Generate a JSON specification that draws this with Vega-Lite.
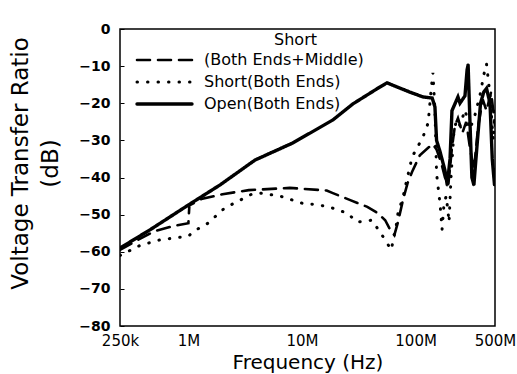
{
  "$schema": "https://vega.github.io/schema/vega-lite/v6.json",
  "width": 375,
  "height": 297,
  "autosize": {"type": "none"},
  "padding": {"left": 120, "top": 29, "right": 22, "bottom": 48},
  "background": "white",
  "config": {
    "view": {"stroke": "black", "strokeWidth": 1.5},
    "font": "DejaVu Sans"
  },
  "data": {
    "values": [
      {"s": "Open(Both Ends)", "f": 250000, "db": -59}, {"s": "Open(Both Ends)", "f": 459000, "db": -54.1},
      {"s": "Open(Both Ends)", "f": 1000000, "db": -47.4}, {"s": "Open(Both Ends)", "f": 1900000, "db": -42},
      {"s": "Open(Both Ends)", "f": 3860000, "db": -35.3}, {"s": "Open(Both Ends)", "f": 8300000, "db": -30.7},
      {"s": "Open(Both Ends)", "f": 18700000, "db": -24.5}, {"s": "Open(Both Ends)", "f": 28000000, "db": -20.2},
      {"s": "Open(Both Ends)", "f": 48600000, "db": -15.6}, {"s": "Open(Both Ends)", "f": 56000000, "db": -14.5},
      {"s": "Open(Both Ends)", "f": 66000000, "db": -15.4}, {"s": "Open(Both Ends)", "f": 89000000, "db": -17},
      {"s": "Open(Both Ends)", "f": 116000000, "db": -18.3}, {"s": "Open(Both Ends)", "f": 140000000, "db": -18.6},
      {"s": "Open(Both Ends)", "f": 148000000, "db": -21}, {"s": "Open(Both Ends)", "f": 153000000, "db": -30},
      {"s": "Open(Both Ends)", "f": 164000000, "db": -33}, {"s": "Open(Both Ends)", "f": 181000000, "db": -38},
      {"s": "Open(Both Ends)", "f": 190000000, "db": -42}, {"s": "Open(Both Ends)", "f": 201000000, "db": -35},
      {"s": "Open(Both Ends)", "f": 209000000, "db": -22}, {"s": "Open(Both Ends)", "f": 236000000, "db": -18.3},
      {"s": "Open(Both Ends)", "f": 246000000, "db": -20}, {"s": "Open(Both Ends)", "f": 272000000, "db": -18},
      {"s": "Open(Both Ends)", "f": 284000000, "db": -11}, {"s": "Open(Both Ends)", "f": 290000000, "db": -9.7},
      {"s": "Open(Both Ends)", "f": 301000000, "db": -25}, {"s": "Open(Both Ends)", "f": 313000000, "db": -40},
      {"s": "Open(Both Ends)", "f": 326000000, "db": -42}, {"s": "Open(Both Ends)", "f": 346000000, "db": -32},
      {"s": "Open(Both Ends)", "f": 373000000, "db": -20}, {"s": "Open(Both Ends)", "f": 398000000, "db": -17},
      {"s": "Open(Both Ends)", "f": 421000000, "db": -16}, {"s": "Open(Both Ends)", "f": 452000000, "db": -20},
      {"s": "Open(Both Ends)", "f": 473000000, "db": -35}, {"s": "Open(Both Ends)", "f": 495000000, "db": -42},
      {"s": "Open(Both Ends)", "f": 500000000, "db": -38},

      {"s": "Short(Both Ends+Middle)", "f": 250000, "db": -59.5}, {"s": "Short(Both Ends+Middle)", "f": 350000, "db": -57},
      {"s": "Short(Both Ends+Middle)", "f": 500000, "db": -54.5}, {"s": "Short(Both Ends+Middle)", "f": 750000, "db": -53},
      {"s": "Short(Both Ends+Middle)", "f": 1000000, "db": -52.3}, {"s": "Short(Both Ends+Middle)", "f": 1020000, "db": -47.5},
      {"s": "Short(Both Ends+Middle)", "f": 1300000, "db": -45.8}, {"s": "Short(Both Ends+Middle)", "f": 2000000, "db": -44.5},
      {"s": "Short(Both Ends+Middle)", "f": 3400000, "db": -43.4}, {"s": "Short(Both Ends+Middle)", "f": 7800000, "db": -42.8},
      {"s": "Short(Both Ends+Middle)", "f": 16500000, "db": -43.5}, {"s": "Short(Both Ends+Middle)", "f": 18700000, "db": -44.2},
      {"s": "Short(Both Ends+Middle)", "f": 26600000, "db": -46.1}, {"s": "Short(Both Ends+Middle)", "f": 37600000, "db": -47.9},
      {"s": "Short(Both Ends+Middle)", "f": 46400000, "db": -49.6}, {"s": "Short(Both Ends+Middle)", "f": 54000000, "db": -51.5},
      {"s": "Short(Both Ends+Middle)", "f": 59600000, "db": -54}, {"s": "Short(Both Ends+Middle)", "f": 65000000, "db": -55.5},
      {"s": "Short(Both Ends+Middle)", "f": 70000000, "db": -52}, {"s": "Short(Both Ends+Middle)", "f": 77500000, "db": -46},
      {"s": "Short(Both Ends+Middle)", "f": 85000000, "db": -41.5}, {"s": "Short(Both Ends+Middle)", "f": 93000000, "db": -38.5},
      {"s": "Short(Both Ends+Middle)", "f": 109000000, "db": -34}, {"s": "Short(Both Ends+Middle)", "f": 129000000, "db": -32},
      {"s": "Short(Both Ends+Middle)", "f": 142000000, "db": -31}, {"s": "Short(Both Ends+Middle)", "f": 153000000, "db": -32.5},
      {"s": "Short(Both Ends+Middle)", "f": 168000000, "db": -36}, {"s": "Short(Both Ends+Middle)", "f": 181500000, "db": -40},
      {"s": "Short(Both Ends+Middle)", "f": 194000000, "db": -42}, {"s": "Short(Both Ends+Middle)", "f": 209000000, "db": -32},
      {"s": "Short(Both Ends+Middle)", "f": 222000000, "db": -26}, {"s": "Short(Both Ends+Middle)", "f": 236000000, "db": -24},
      {"s": "Short(Both Ends+Middle)", "f": 258000000, "db": -28}, {"s": "Short(Both Ends+Middle)", "f": 279000000, "db": -25},
      {"s": "Short(Both Ends+Middle)", "f": 301000000, "db": -32}, {"s": "Short(Both Ends+Middle)", "f": 326000000, "db": -38},
      {"s": "Short(Both Ends+Middle)", "f": 356000000, "db": -26}, {"s": "Short(Both Ends+Middle)", "f": 390000000, "db": -19},
      {"s": "Short(Both Ends+Middle)", "f": 421000000, "db": -22}, {"s": "Short(Both Ends+Middle)", "f": 462000000, "db": -17},
      {"s": "Short(Both Ends+Middle)", "f": 500000000, "db": -26},

      {"s": "Short(Both Ends)", "f": 250000, "db": -61}, {"s": "Short(Both Ends)", "f": 375000, "db": -58.3},
      {"s": "Short(Both Ends)", "f": 562000, "db": -56.8}, {"s": "Short(Both Ends)", "f": 1000000, "db": -55.8},
      {"s": "Short(Both Ends)", "f": 1140000, "db": -54.3}, {"s": "Short(Both Ends)", "f": 1490000, "db": -52.3},
      {"s": "Short(Both Ends)", "f": 2090000, "db": -48.2}, {"s": "Short(Both Ends)", "f": 2730000, "db": -46.4},
      {"s": "Short(Both Ends)", "f": 3600000, "db": -44.5}, {"s": "Short(Both Ends)", "f": 4270000, "db": -44.2},
      {"s": "Short(Both Ends)", "f": 6400000, "db": -45}, {"s": "Short(Both Ends)", "f": 10200000, "db": -47},
      {"s": "Short(Both Ends)", "f": 13500000, "db": -47.3}, {"s": "Short(Both Ends)", "f": 17600000, "db": -48},
      {"s": "Short(Both Ends)", "f": 25000000, "db": -49.6}, {"s": "Short(Both Ends)", "f": 30600000, "db": -52},
      {"s": "Short(Both Ends)", "f": 41300000, "db": -51.5}, {"s": "Short(Both Ends)", "f": 54000000, "db": -56.8},
      {"s": "Short(Both Ends)", "f": 61000000, "db": -59.5}, {"s": "Short(Both Ends)", "f": 67500000, "db": -53},
      {"s": "Short(Both Ends)", "f": 70000000, "db": -49.6}, {"s": "Short(Both Ends)", "f": 77500000, "db": -45.3},
      {"s": "Short(Both Ends)", "f": 83600000, "db": -40.7}, {"s": "Short(Both Ends)", "f": 89000000, "db": -37.2},
      {"s": "Short(Both Ends)", "f": 93000000, "db": -34.5}, {"s": "Short(Both Ends)", "f": 104000000, "db": -31.8},
      {"s": "Short(Both Ends)", "f": 116000000, "db": -29.1}, {"s": "Short(Both Ends)", "f": 129000000, "db": -25.3},
      {"s": "Short(Both Ends)", "f": 137000000, "db": -16.4}, {"s": "Short(Both Ends)", "f": 142000000, "db": -11.8},
      {"s": "Short(Both Ends)", "f": 148000000, "db": -21.8}, {"s": "Short(Both Ends)", "f": 153000000, "db": -39},
      {"s": "Short(Both Ends)", "f": 164000000, "db": -47}, {"s": "Short(Both Ends)", "f": 171000000, "db": -54},
      {"s": "Short(Both Ends)", "f": 178000000, "db": -47}, {"s": "Short(Both Ends)", "f": 186000000, "db": -45},
      {"s": "Short(Both Ends)", "f": 194000000, "db": -50}, {"s": "Short(Both Ends)", "f": 197000000, "db": -52},
      {"s": "Short(Both Ends)", "f": 205000000, "db": -40}, {"s": "Short(Both Ends)", "f": 217000000, "db": -28},
      {"s": "Short(Both Ends)", "f": 229000000, "db": -24.5}, {"s": "Short(Both Ends)", "f": 246000000, "db": -26},
      {"s": "Short(Both Ends)", "f": 272000000, "db": -21.8}, {"s": "Short(Both Ends)", "f": 301000000, "db": -27},
      {"s": "Short(Both Ends)", "f": 333000000, "db": -23.2}, {"s": "Short(Both Ends)", "f": 369000000, "db": -17.8},
      {"s": "Short(Both Ends)", "f": 398000000, "db": -12.4}, {"s": "Short(Both Ends)", "f": 421000000, "db": -9.4},
      {"s": "Short(Both Ends)", "f": 452000000, "db": -17.8}, {"s": "Short(Both Ends)", "f": 482000000, "db": -30},
      {"s": "Short(Both Ends)", "f": 500000000, "db": -22}
    ]
  },
  "mark": {"type": "line", "color": "black", "strokeCap": "round", "clip": true},
  "encoding": {
    "x": {
      "field": "f", "type": "quantitative",
      "scale": {"type": "log", "domain": [250000, 500000000], "nice": false},
      "axis": {
        "title": "Frequency (Hz)",
        "values": [250000, 1000000, 10000000, 100000000, 500000000],
        "labelExpr": "datum.value == 250000 ? '250k' : datum.value == 1000000 ? '1M' : datum.value == 10000000 ? '10M' : datum.value == 100000000 ? '100M' : '500M'",
        "grid": false, "ticks": false, "domain": false, "labelOverlap": false,
        "labelFontSize": 15, "labelColor": "black", "labelPadding": 7, "labelDx": -7, "labelFlush": false,
        "titleFontSize": 20, "titleFontWeight": "normal", "titleColor": "black", "titlePadding": 4
      }
    },
    "y": {
      "field": "db", "type": "quantitative",
      "scale": {"domain": [-80, 0], "nice": false},
      "axis": {
        "title": ["Voltage Transfer Ratio", "(dB)"],
        "values": [0, -10, -20, -30, -40, -50, -60, -70, -80],
        "grid": false, "ticks": true, "tickSize": -4, "tickColor": "black", "tickWidth": 1, "domain": false, "labelOverlap": false,
        "labelFontSize": 14, "labelFontWeight": "bold", "labelColor": "black", "labelPadding": 14, "labelDy": 4,
        "titleFontSize": 23, "titleFontWeight": "normal", "titleColor": "black",
        "titleLineHeight": 30, "titleX": -88, "titleY": 134
      }
    },
    "strokeWidth": {
      "field": "s", "type": "nominal",
      "scale": {"domain": ["Short(Both Ends+Middle)", "Short(Both Ends)", "Open(Both Ends)"], "range": [2.6, 3.4, 2.2]},
      "legend": null
    },
    "strokeDash": {
      "field": "s", "type": "nominal",
      "scale": {
        "domain": ["Short(Both Ends+Middle)", "Short(Both Ends)", "Open(Both Ends)"],
        "range": [[13, 8], [0.5, 10], [1, 0]]
      },
      "legend": {
        "orient": "none", "legendX": 15, "legendY": 3, "padding": 0,
        "title": "Short", "titleFontSize": 16, "titleFontWeight": "normal", "titleColor": "black",
        "titleAnchor": "end", "titlePadding": 1,
        "symbolType": "stroke", "symbolSize": 3025, "symbolStrokeWidth": 3, "symbolStrokeColor": "black",
        "clipHeight": 22, "rowPadding": 0, "labelOffset": 10,
        "labelFontSize": 16, "labelColor": "black",
        "labelExpr": "datum.label == 'Short(Both Ends+Middle)' ? '(Both Ends+Middle)' : datum.label",
        "encode": {
          "title": {"update": {"dx": {"value": -47}}},
          "symbols": {"update": {"strokeCap": {"value": "round"}}}
        }
      }
    }
  }
}
